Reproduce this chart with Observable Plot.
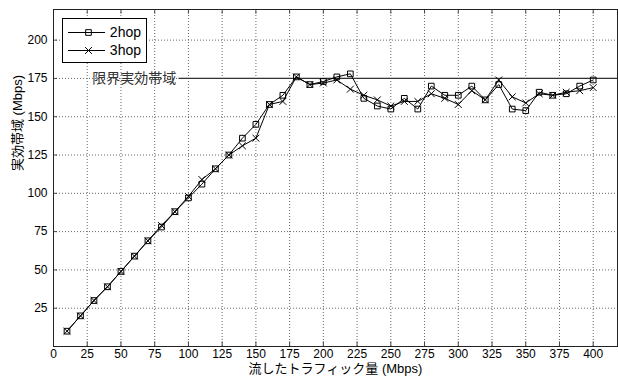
<!DOCTYPE html>
<html><head><meta charset="utf-8">
<script src="https://cdn.jsdelivr.net/npm/d3@7"></script>
<script src="https://cdn.jsdelivr.net/npm/@observablehq/plot@0.6"></script>
<style>
body{margin:0;background:#fff;}
#wrap{position:relative;width:618px;height:376px;}
#legend{position:absolute;left:0;top:0;pointer-events:none;}
</style></head><body><div id="wrap"></div>
<script>
// ---- data ----
const traffic = [10,20,30,40,50,60,70,80,90,100,110,120,130,140,150,160,170,180,190,200,210,220,230,240,250,260,270,280,290,300,310,320,330,340,350,360,370,380,390,400];
const hop2 = [10,20,30,39,49,59,69,78,88,97,106,116,125,136,145,158,164,176,171,173,176,178,162,157,155,162,155,170,164,164,170,161,171,155,154,166,164,165,170,174];
const hop3 = [10,20,30,39,49,59,69,79,88,98,109,116,125,131,136,158,160,176,171,172,174,168,164,161,157,160,160,165,162,158,167,161,174,163,159,165,164,166,167,169];
const seriesNames = ["2hop", "3hop"];
const xTicks = [0,25,50,75,100,125,150,175,200,225,250,275,300,325,350,375,400];
const yTicks = [25,50,75,100,125,150,175,200];
const xDomain = [0, 418];
const yDomain = [0, 220];
const limitValue = 175;
const limitStart = 93;
const limitLabel = "限界実効帯域";
const xTitle = "流したトラフィック量 (Mbps)";
const yTitle = "実効帯域 (Mbps)";

const rows2 = traffic.map((x, i) => ({x, y: hop2[i]}));
const rows3 = traffic.map((x, i) => ({x, y: hop3[i]}));

const font = '"Liberation Sans", Arial, "Noto Sans CJK JP", sans-serif';
const gridStyle = {stroke: "#666", strokeOpacity: 1, strokeDasharray: "1,2"};

const chart = Plot.plot({
  width: 618, height: 376,
  marginTop: 9, marginRight: 1, marginBottom: 30, marginLeft: 53,
  style: {fontFamily: font, fontSize: "12px", background: "white", color: "black"},
  x: {domain: xDomain},
  y: {domain: yDomain},
  marks: [
    Plot.gridX(xTicks.slice(1), gridStyle),
    Plot.gridY(yTicks, gridStyle),
    Plot.ruleX(xTicks.slice(1), {y1: yDomain[0], y2: yDomain[0] + 3, stroke: "#444"}),
    Plot.ruleX(xTicks.slice(1), {y1: yDomain[1] - 3, y2: yDomain[1], stroke: "#444"}),
    Plot.ruleY(yTicks, {x1: xDomain[0], x2: xDomain[0] + 3, stroke: "#444"}),
    Plot.axisX(xTicks, {tickSize: 0, tickPadding: 3, label: null, fontSize: 12}),
    Plot.axisY(yTicks, {tickSize: 0, tickPadding: 6, label: null, fontSize: 12}),
    Plot.text([xTitle], {text: d => d, frameAnchor: "bottom", dy: 22, fontSize: 13, lineAnchor: "middle"}),
    Plot.text([yTitle], {text: d => d, frameAnchor: "left", dx: -36, dy: -7, rotate: -90, fontSize: 13, lineAnchor: "middle"}),
    Plot.ruleY([limitValue], {x1: limitStart, x2: xDomain[1], stroke: "#333", strokeWidth: 1.2}),
    Plot.text([limitLabel], {text: d => d, x: limitStart - 2, y: limitValue, textAnchor: "end", fontSize: 14, fill: "#333"}),
    Plot.line(rows2, {x: "x", y: "y", stroke: "black", strokeWidth: 1}),
    Plot.dot(rows2, {x: "x", y: "y", symbol: "square", r: 3.2, stroke: "black", strokeWidth: 1, fill: "none"}),
    Plot.line(rows3, {x: "x", y: "y", stroke: "black", strokeWidth: 1}),
    Plot.dot(rows3, {x: "x", y: "y", symbol: "times", r: 3.2, stroke: "black", strokeWidth: 1, fill: "none"}),
    Plot.frame({stroke: "#222"})
  ]
});
const wrap = document.getElementById("wrap");
wrap.appendChild(chart);

// ---- legend overlay ----
const NS = "http://www.w3.org/2000/svg";
const leg = document.createElementNS(NS, "svg");
leg.setAttribute("id", "legend");
leg.setAttribute("width", 618); leg.setAttribute("height", 376);
const sq = d3.symbol(d3.symbolSquare, Math.PI * 3.2 * 3.2)();
const tx = d3.symbol(d3.symbolTimes, Math.PI * 3.2 * 3.2)();
let html = `<rect x="62.5" y="18.5" width="84" height="44" fill="white" stroke="black" stroke-width="1"/>`;
seriesNames.forEach((name, i) => {
  const yy = 32.5 + i * 18;
  html += `<line x1="68" x2="105" y1="${yy}" y2="${yy}" stroke="black"/>`;
  html += `<path d="${i === 0 ? sq : tx}" transform="translate(88.5,${yy})" fill="none" stroke="black"/>`;
  html += `<text x="141" y="${yy}" dy="0.35em" text-anchor="end" font-family='${font}' font-size="14">${name}</text>`;
});
leg.innerHTML = html;
wrap.appendChild(leg);
</script>
</body></html>
